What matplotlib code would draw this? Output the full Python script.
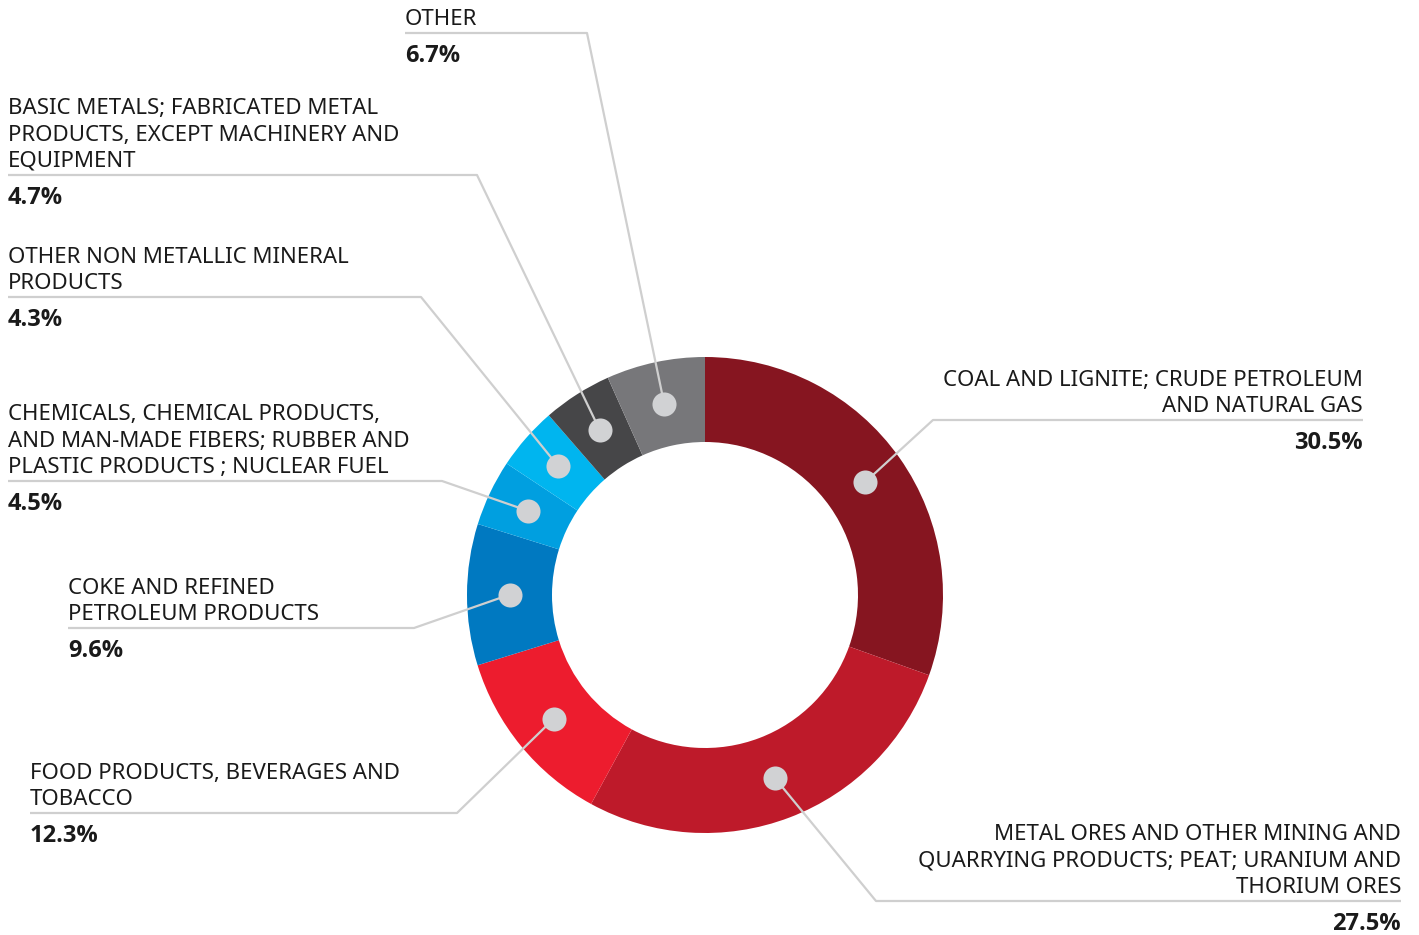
import numpy as np
import matplotlib
matplotlib.use("Agg")
import matplotlib.pyplot as plt

plt.rcParams['font.family'] = ['Noto Sans', 'DejaVu Sans']

# data, clockwise from the top
categories = [
    "COAL AND LIGNITE; CRUDE PETROLEUM\nAND NATURAL GAS",
    "METAL ORES AND OTHER MINING AND\nQUARRYING PRODUCTS; PEAT; URANIUM AND\nTHORIUM ORES",
    "FOOD PRODUCTS, BEVERAGES AND\nTOBACCO",
    "COKE AND REFINED\nPETROLEUM PRODUCTS",
    "CHEMICALS, CHEMICAL PRODUCTS,\nAND MAN-MADE FIBERS; RUBBER AND\nPLASTIC PRODUCTS ; NUCLEAR FUEL",
    "OTHER NON METALLIC MINERAL\nPRODUCTS",
    "BASIC METALS; FABRICATED METAL\nPRODUCTS, EXCEPT MACHINERY AND\nEQUIPMENT",
    "OTHER",
]
shares = [30.5, 27.5, 12.3, 9.6, 4.5, 4.3, 4.7, 6.7]
colors = ["#861520", "#BE1A2A", "#ED1C2E", "#0079C1",
          "#009FE0", "#00B5EF", "#464648", "#77777A"]

# layout (image pixel coords, y down): elbow of leader, end of underline, text align
elbows = [(933, 420), (876, 901), (457, 813), (414, 628),
          (442, 481), (421, 297), (477, 175), (587, 33)]
line_ends = [1363, 1401, 30, 68, 8, 8, 8, 405]
aligns = ["right", "right", "left", "left", "left", "left", "left", "left"]

W, H = 1419, 935
cx, cy = 705, 595
R, ring = 238, 85


def Y(y):
    return H - y


fig = plt.figure(figsize=(W / 100, H / 100), dpi=100)
ax = fig.add_axes([0, 0, 1, 1])

ax.pie(shares, colors=colors, startangle=90, counterclock=False,
       center=(cx, Y(cy)), radius=R, frame=True,
       wedgeprops=dict(width=ring, linewidth=0))
ax.set_xlim(0, W)
ax.set_ylim(0, H)
ax.set_aspect('equal')
ax.axis('off')

frac = np.array(shares) / sum(shares)
start = 90 - 360 * np.concatenate([[0], np.cumsum(frac)[:-1]])
mid = np.deg2rad(start - 180 * frac)
rd = R - ring / 2

line_col = "#CFCFCF"
for i, lab in enumerate(categories):
    dx = cx + rd * np.cos(mid[i])
    dy = Y(cy) + rd * np.sin(mid[i])
    ex, ey = elbows[i]
    xe = line_ends[i]
    ax.plot([dx, ex, xe], [dy, Y(ey), Y(ey)], color=line_col, lw=1.6,
            solid_capstyle='butt', zorder=3)
    ax.scatter([dx], [dy], s=300, color="#D1D2D4", zorder=4, linewidths=0)
    ax.text(xe, Y(ey) + 3, lab, ha=aligns[i], va='bottom', fontsize=16,
            color="#1a1a1a", linespacing=1.33, multialignment=aligns[i])
    ax.text(xe, Y(ey) - 11, f"{shares[i]}%", ha=aligns[i], va='top',
            fontsize=17, fontweight='bold', family=['Open Sans', 'DejaVu Sans'],
            color="#1a1a1a")

fig.savefig("out.png", dpi=100)
